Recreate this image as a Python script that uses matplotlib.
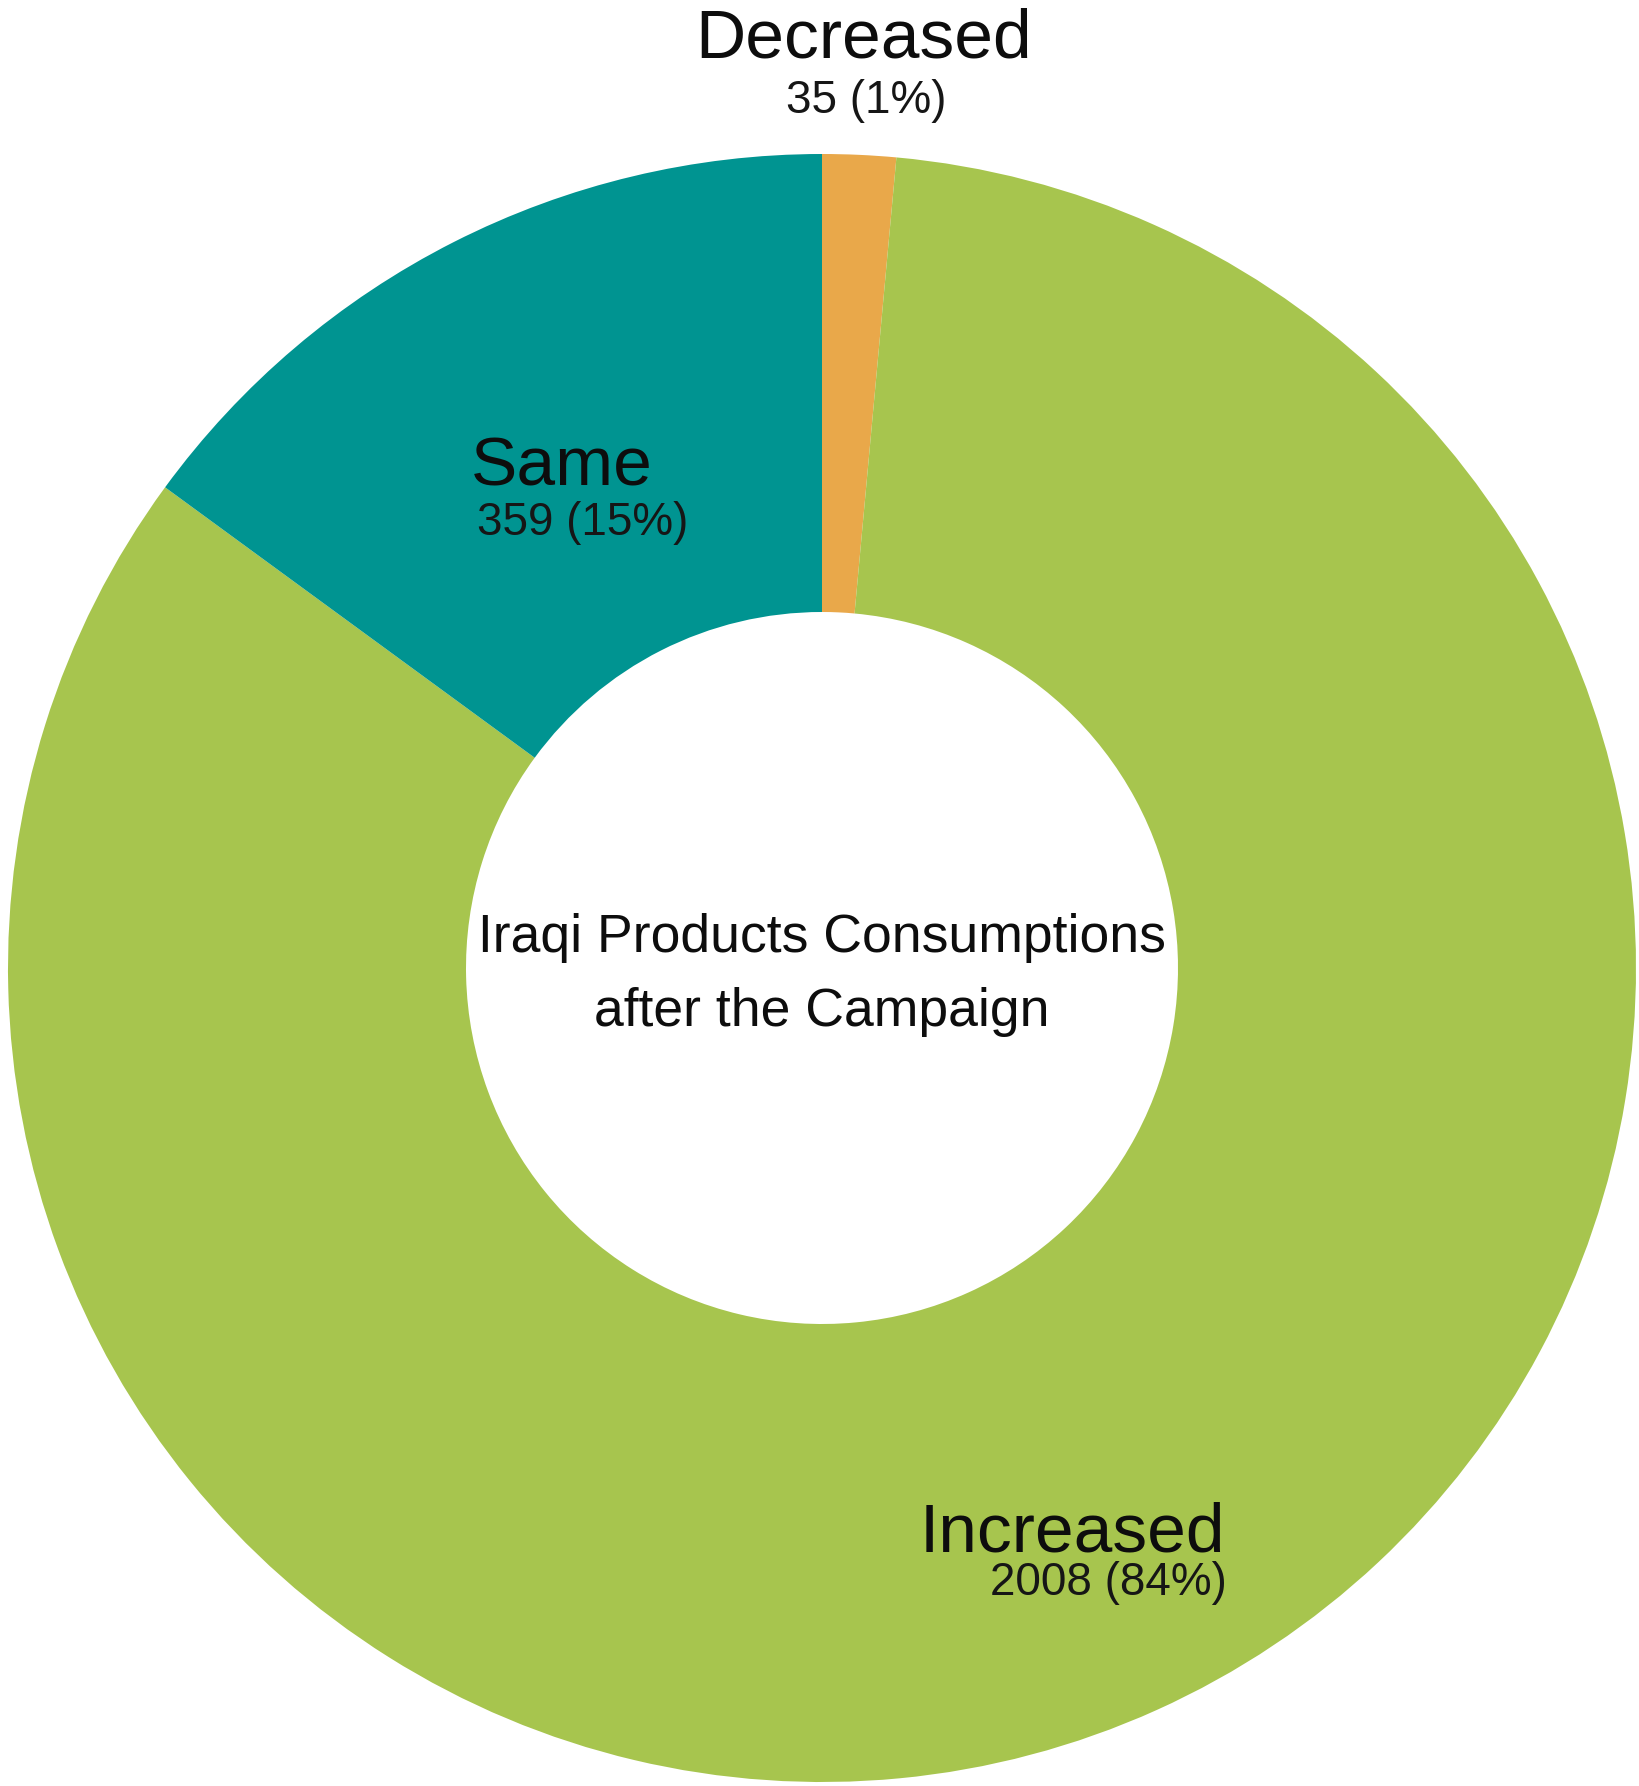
import matplotlib
matplotlib.use('Agg')
import matplotlib.pyplot as plt

# Dados do grafico (donut)
categorias = ["Decreased", "Increased", "Same"]
valores = [35, 2008, 359]
percentagens = ["1%", "84%", "15%"]
cores = ["#E9A84A", "#A7C54E", "#009491"]
titulo_centro = ["Iraqi Products Consumptions", "after the Campaign"]

W, H = 1639, 1786
plt.rcParams['font.family'] = ['Liberation Sans', 'DejaVu Sans']

fig = plt.figure(figsize=(W / 100, H / 100), dpi=100)
ax = fig.add_axes([0, 0, 1, 1])

cx, cy = 822, H - 968
r_ext = 814
r_int = 356

ax.pie(valores, colors=cores, startangle=90, counterclock=False,
       center=(cx, cy), radius=r_ext, frame=True,
       wedgeprops=dict(width=r_ext - r_int, linewidth=0))
ax.set_xlim(0, W)
ax.set_ylim(0, H)
ax.set_aspect('equal')
ax.axis('off')

# posicoes dos rotulos (em pixels, y a partir do topo)
pos_rotulos = {
    "Decreased": (864, 58, 866, 113, 'center'),
    "Same": (562, 485, 583, 535, 'center'),
    "Increased": (1225, 1552, 1227, 1595, 'right'),
}
for cat, val, pct in zip(categorias, valores, percentagens):
    x1, y1, x2, y2, ha = pos_rotulos[cat]
    ax.text(x1, H - y1, cat, fontsize=50, ha=ha, va='baseline', color='#0d0d0d')
    ax.text(x2, H - y2, "{} ({})".format(val, pct), fontsize=33, ha=ha,
            va='baseline', color='#161616')

ax.text(cx, H - 952, titulo_centro[0], fontsize=38.5, ha='center', va='baseline', color='#0d0d0d')
ax.text(cx, H - 1026, titulo_centro[1], fontsize=38.5, ha='center', va='baseline', color='#0d0d0d')

fig.savefig("out.png", dpi=100, facecolor='white')
